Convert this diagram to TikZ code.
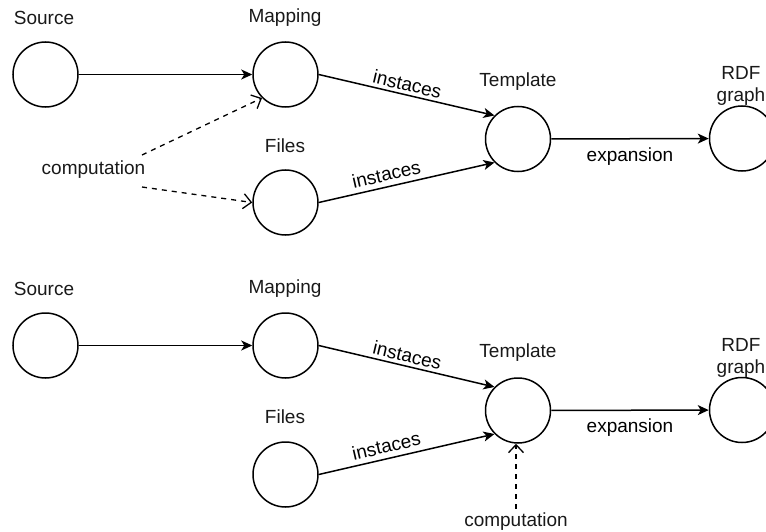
\documentclass[tikz,border=0pt]{standalone}
\usepackage{fontspec}
\setmainfont{Liberation Sans}
\usetikzlibrary{arrows.meta}

\tikzset{
  state/.style={circle, draw, line width=1.5pt, minimum size=65pt, inner sep=0pt},
  caption/.style={inner sep=0pt, font=\fontsize{19}{22}\selectfont, text=black!90},
  flow/.style={line width=1.5pt, -{Stealth[length=11pt, width=10pt, inset=3pt]}},
  derive/.style={line width=1.3pt, dash pattern=on 5pt off 5pt,
                 -{Straight Barb[length=8pt, width=15pt, line width=1.3pt]}},
  edgetext/.style={font=\fontsize{19}{22}\selectfont, inner sep=0pt},
}

\begin{document}
\begin{tikzpicture}[x=1pt, y=-1pt]
  \useasboundingbox (0,0) rectangle (766,532);
  \clip (0,0) rectangle (766,532);

  % ---------- upper variant: computation feeds mapping and files ----------
  \node[state] (src1) at (45.5,74.5) {};
  \node[state] (map1) at (285.5,74.5) {};
  \node[state] (fil1) at (285.5,202.5) {};
  \node[state] (tpl1) at (518,139) {};
  \node[state] (rdf1) at (742,138.5) {};

  \node[caption] (src1l) at (44,18) {Source};
  \node[caption] (map1l) at (285,18) {Mapping};
  \node[caption] (fil1l) at (285,146) {Files};
  \node[caption] (tpl1l) at (518,82) {Template};
  \node[caption, align=center, text depth=0pt] (rdf1l) at (741,84) {RDF\\graph};
  \node[caption] (cmp1) at (93.5,170) {computation};

  \coordinate (cmp1a) at (142,155);
  \coordinate (cmp1b) at (142,187);

  \draw[flow] (src1) -- (map1);
  \draw[flow] (map1.east) -- (tpl1.north west)
    node[edgetext, sloped, above=3pt, pos=0.49] (ins1a) {instaces};
  \draw[flow] (fil1.east) -- (tpl1.south west)
    node[edgetext, sloped, above=5pt, pos=0.4] (ins1b) {instaces};
  \draw[flow] (tpl1) -- (rdf1)
    node[edgetext, below=8pt, pos=0.5] (exp1) {expansion};
  \draw[derive] (cmp1a) -- (map1.south west);
  \draw[derive] (cmp1b) -- (fil1.west);

  % ---------- lower variant: computation feeds the template ----------
  \node[state] (src2) at (45.5,345.5) {};
  \node[state] (map2) at (285.5,345.5) {};
  \node[state] (fil2) at (285.5,474.5) {};
  \node[state] (tpl2) at (518,410.5) {};
  \node[state] (rdf2) at (742,410) {};

  \node[caption] (src2l) at (44,289) {Source};
  \node[caption] (map2l) at (285,289) {Mapping};
  \node[caption] (fil2l) at (285,417) {Files};
  \node[caption] (tpl2l) at (518,353) {Template};
  \node[caption, align=center, text depth=0pt] (rdf2l) at (741,355.5) {RDF\\graph};
  \node[caption] (cmp2) at (516,522) {computation};

  \draw[flow] (src2) -- (map2);
  \draw[flow] (map2.east) -- (tpl2.north west)
    node[edgetext, sloped, above=3pt, pos=0.49] (ins2a) {instaces};
  \draw[flow] (fil2.east) -- (tpl2.south west)
    node[edgetext, sloped, above=5pt, pos=0.4] (ins2b) {instaces};
  \draw[flow] (tpl2) -- (rdf2)
    node[edgetext, below=8pt, pos=0.5] (exp2) {expansion};
  \draw[derive] ([yshift=4pt]cmp2.north) -- (cmp2.north |- tpl2.south);
\end{tikzpicture}
\end{document}
